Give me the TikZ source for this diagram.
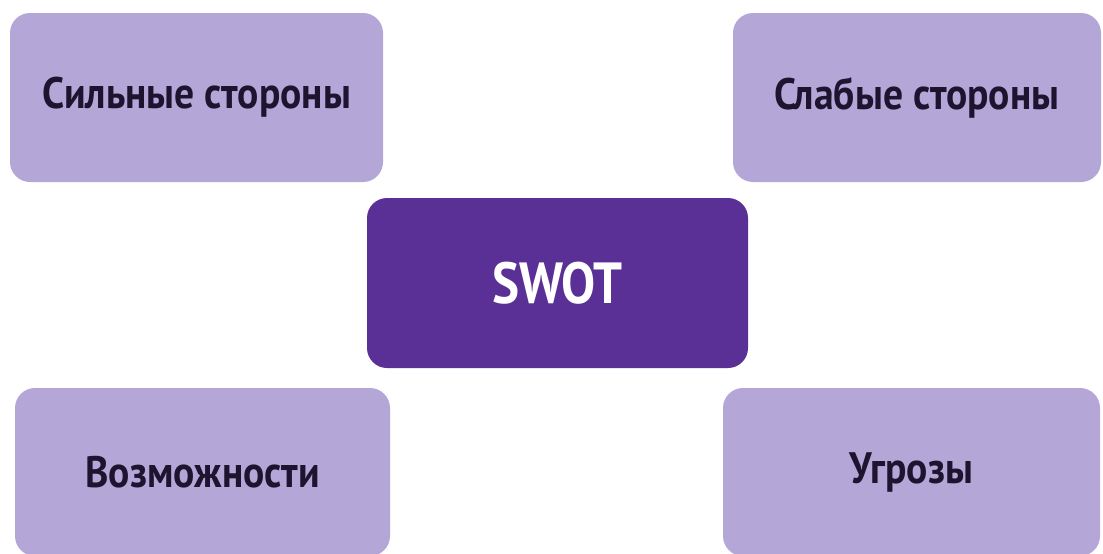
\documentclass[tikz,border=0pt]{standalone}
\usepackage{fontspec}
\setmainfont{PT Sans}
\definecolor{lilac}{RGB}{180,166,214}
\definecolor{grape}{RGB}{91,48,150}
\definecolor{ink}{RGB}{30,20,48}
\tikzset{
	side/.style={fill=lilac, rounded corners=20pt, text=ink,
		font=\bfseries\fontsize{44}{46}\selectfont\addfontfeature{FakeStretch=0.9}, inner sep=0pt},
	core/.style={fill=grape, rounded corners=20pt, text=white,
		font=\bfseries\fontsize{58}{60}\selectfont\addfontfeature{FakeStretch=0.88}, inner sep=0pt},
}
\begin{document}
\begin{tikzpicture}[x=1pt,y=-1pt]
	\useasboundingbox (0,0) rectangle (1103,554);
	% four sides
	\node[side, minimum width=373pt, minimum height=169pt] (strong) at (196.5,97.5) {Сильные стороны};
	\node[side, minimum width=368pt, minimum height=169pt] (weak) at (917,97.5) {Слабые стороны};
	\node[side, minimum width=375pt, minimum height=168pt] (chance) at (202.5,472) {Возможности};
	\node[side, minimum width=377pt, minimum height=168pt] (threat) at (911.5,472) {Угрозы};
	% centre
	\node[core, minimum width=381pt, minimum height=170pt] (swot) at (557.5,283) {SWOT};
\end{tikzpicture}
\end{document}
